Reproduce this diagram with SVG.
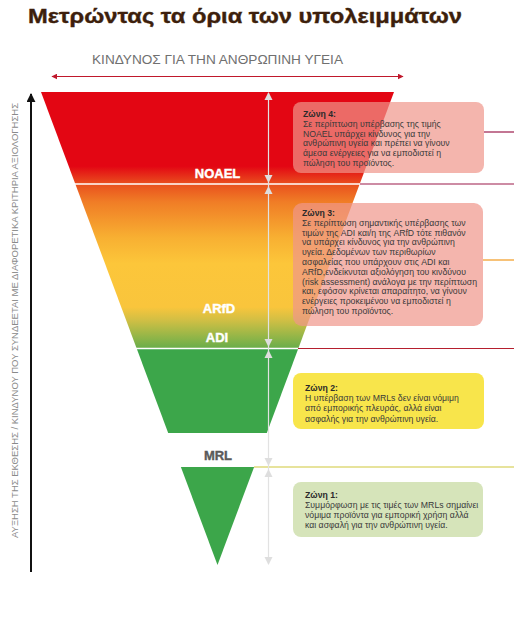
<svg xmlns="http://www.w3.org/2000/svg" width="514" height="623" viewBox="0 0 514 623">
<style>
.ttl{font-family:"Liberation Sans",Arial,sans-serif;font-weight:bold;font-size:21px;fill:#3d1f0c;stroke:#3d1f0c;stroke-width:0.4}
.sub{font-family:"Liberation Sans",Arial,sans-serif;font-size:12.5px;fill:#707070}
.vert{font-family:"Liberation Sans",Arial,sans-serif;font-size:9px;fill:#8a8a8a}
.lbl{font-family:"Liberation Sans",Arial,sans-serif;font-weight:bold;font-size:13px;fill:#ffffff;text-anchor:middle;stroke:#ffffff;stroke-width:0.4}
.zt{font-family:"Liberation Sans",Arial,sans-serif;font-size:8.7px;fill:#3a3a3a}
.zt .b{font-weight:bold;fill:#2a2a2a}
.scale{stroke:#e2e2e2;stroke-width:1.2;fill:none}
.ah{fill:#dedede}
.pinkbox{fill:#f0958a;fill-opacity:0.7}
</style>
<defs>
<linearGradient id="g" gradientUnits="userSpaceOnUse" x1="0" y1="92" x2="0" y2="348">
<stop offset="0" stop-color="#e30613"/>
<stop offset="0.29" stop-color="#e30613"/>
<stop offset="0.36" stop-color="#e9501e"/>
<stop offset="0.43" stop-color="#f07d26"/>
<stop offset="0.57" stop-color="#f8b032"/>
<stop offset="0.67" stop-color="#fcc63a"/>
<stop offset="0.84" stop-color="#f9c53c"/>
<stop offset="0.89" stop-color="#d2bf44"/>
<stop offset="0.96" stop-color="#8fb548"/>
<stop offset="1" stop-color="#6aad4a"/>
</linearGradient>
<marker id="ra" viewBox="0 0 10 10" refX="9" refY="5" markerWidth="6" markerHeight="6" orient="auto-start-reverse" markerUnits="userSpaceOnUse">
<path d="M0,0 L10,5 L0,10 z" fill="#c0182c"/>
</marker>
<marker id="ka" viewBox="0 0 10 10" refX="9" refY="5" markerWidth="9" markerHeight="9" orient="auto" markerUnits="userSpaceOnUse">
<path d="M0,0 L10,5 L0,10 z" fill="#111"/>
</marker>
</defs>

<g id="title">
<text class="ttl" x="28" y="23" textLength="434" lengthAdjust="spacingAndGlyphs">Μετρώντας τα όρια των υπολειμμάτων</text>
</g>
<g id="risk-label">
<text class="sub" x="92" y="64" textLength="251" lengthAdjust="spacingAndGlyphs">ΚΙΝΔΥΝΟΣ ΓΙΑ ΤΗΝ ΑΝΘΡΩΠΙΝΗ ΥΓΕΙΑ</text>
</g>
<g id="exposure-label">
<text class="vert" transform="translate(17.5,320.5) rotate(-90)" text-anchor="middle" textLength="435" lengthAdjust="spacingAndGlyphs">ΑΥΞΗΣΗ ΤΗΣ ΕΚΘΕΣΗΣ / ΚΙΝΔΥΝΟΥ ΠΟΥ ΣΥΝΔΕΕΤΑΙ ΜΕ ΔΙΑΦΟΡΕΤΙΚΑ ΚΡΙΤΗΡΙΑ ΑΞΙΟΛΟΓΗΣΗΣ</text>
</g>

<g id="band-upper">
<polygon points="41,92 394,92 298.5,348 136.5,348" fill="url(#g)"/>
</g>
<g id="band-green">
<polygon points="136.5,348 298.5,348 266.8,433 168.2,433" fill="#3ca64a"/>
</g>
<g id="band-mrl">
<polygon points="180.9,467 254.1,467 217.5,565" fill="#3ca64a"/>
</g>

<g id="connectors">
<line x1="52" y1="76.5" x2="403" y2="76.5" stroke="#c0182c" stroke-width="1.2" marker-start="url(#ra)" marker-end="url(#ra)"/>
<line x1="31" y1="572" x2="31" y2="94" stroke="#111" stroke-width="2" marker-end="url(#ka)"/>
<line x1="75" y1="184" x2="360" y2="184" stroke="#ffffff" stroke-width="1.5"/>
<line x1="136" y1="348.5" x2="298.5" y2="348.5" stroke="#ffffff" stroke-width="1.5"/>
<line x1="360" y1="184" x2="514" y2="184" stroke="#9b1b4b" stroke-width="1.2"/>
<line x1="484" y1="132" x2="514" y2="132" stroke="#9b1b4b" stroke-width="1.2"/>
<line x1="483" y1="260" x2="514" y2="260" stroke="#f29a1f" stroke-width="1.2"/>
<line x1="298" y1="348.5" x2="514" y2="348.5" stroke="#b51f2e" stroke-width="1.2"/>
<line x1="254" y1="467" x2="514" y2="467" stroke="#cfc83a" stroke-width="1.2"/>
<line class="scale" x1="268.5" y1="93" x2="268.5" y2="564"/>
<polygon class="ah" points="268.5,92 264.5,100 272.5,100"/>
<polygon class="ah" points="268.5,183 264.5,175 272.5,175"/>
<polygon class="ah" points="268.5,186 264.5,194 272.5,194"/>
<polygon class="ah" points="268.5,347 264.5,339 272.5,339"/>
<polygon class="ah" points="268.5,350 264.5,358 272.5,358"/>
<polygon class="ah" points="268.5,466 264.5,458 272.5,458"/>
<polygon class="ah" points="268.5,469 264.5,477 272.5,477"/>
<polygon class="ah" points="268.5,565 264.5,557 272.5,557"/>
</g>

<g id="labels">
<text class="lbl" x="217.5" y="178">NOAEL</text>
<text class="lbl" x="219" y="313">ARfD</text>
<text class="lbl" x="217" y="342">ADI</text>
<text class="lbl" x="218" y="460" style="fill:#5a5a5a;stroke:#5a5a5a">MRL</text>
</g>

<g id="zone4">
<rect class="pinkbox" x="293" y="102" width="191" height="71" rx="8"/>
<text class="zt"><tspan class="b" x="303" y="117">Ζώνη 4:</tspan><tspan x="303" y="126.8">Σε περίπτωση υπέρβασης της τιμής</tspan><tspan x="303" y="136.6">NOAEL υπάρχει κίνδυνος για την</tspan><tspan x="303" y="146.4">ανθρώπινη υγεία και πρέπει να γίνουν</tspan><tspan x="303" y="156.2">άμεσα ενέργειες για να εμποδιστεί η</tspan><tspan x="303" y="166">πώληση του προϊόντος.</tspan></text>
</g>
<g id="zone3">
<rect class="pinkbox" x="293" y="203" width="190" height="123" rx="9"/>
<text class="zt"><tspan class="b" x="302" y="216">Ζώνη 3:</tspan><tspan x="302" y="225.8">Σε περίπτωση σημαντικής υπέρβασης των</tspan><tspan x="302" y="235.6">τιμών της ADI και/η της ARfD τότε πιθανόν</tspan><tspan x="302" y="245.4">να υπάρχει κίνδυνος για την ανθρώπινη</tspan><tspan x="302" y="255.2">υγεία. Δεδομένων των περιθωρίων</tspan><tspan x="302" y="265">ασφαλείας που υπάρχουν στις ADI και</tspan><tspan x="302" y="274.8">ARfD,ενδείκνυται αξιολόγηση του κινδύνου</tspan><tspan x="302" y="284.6">(risk assessment) ανάλογα με την περίπτωση</tspan><tspan x="302" y="294.4">και, εφόσον κρίνεται απαραίτητο, να γίνουν</tspan><tspan x="302" y="304.2">ενέργειες προκειμένου να εμποδιστεί η</tspan><tspan x="302" y="314">πώληση του προϊόντος.</tspan></text>
</g>
<g id="zone2">
<rect x="293" y="373" width="191" height="56" rx="8" fill="#f8e54b"/>
<text class="zt"><tspan class="b" x="305" y="391">Ζώνη 2:</tspan><tspan x="305" y="401.2">Η υπέρβαση των MRLs δεν είναι νόμιμη</tspan><tspan x="305" y="411.4">από εμπορικής πλευράς, αλλά είναι</tspan><tspan x="305" y="421.6">ασφαλής για την ανθρώπινη υγεία.</tspan></text>
</g>
<g id="zone1">
<rect x="293" y="482" width="190" height="55" rx="8" fill="#d6e4ba"/>
<text class="zt"><tspan class="b" x="305" y="498">Ζώνη 1:</tspan><tspan x="305" y="508">Συμμόρφωση με τις τιμές των MRLs σημαίνει</tspan><tspan x="305" y="518">νόμιμα προϊόντα για εμπορική χρήση αλλά</tspan><tspan x="305" y="528">και ασφαλή για την ανθρώπινη υγεία.</tspan></text>
</g>
</svg>
